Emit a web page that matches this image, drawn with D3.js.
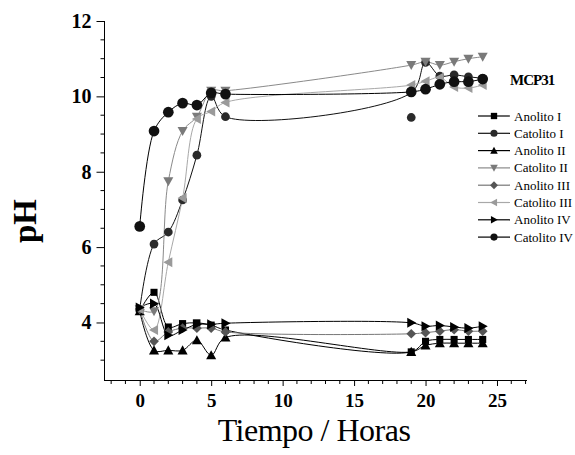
<!DOCTYPE html>
<html><head><meta charset="utf-8">
<script src="https://cdn.jsdelivr.net/npm/d3@7"></script>
<style>body{margin:0;background:#fff}svg{display:block}</style>
</head><body>
<svg id="c" width="575" height="455"></svg>
<script>
const times = [0, 1, 2, 3, 4, 5, 6, 19, 20, 21, 22, 23, 24];
const anolitoI   = [4.3, 4.8, 3.88, 3.97, 3.99, 3.93, 3.8, 3.22, 3.5, 3.55, 3.55, 3.55, 3.55];
const catolitoI  = [4.35, 6.08, 6.4, 7.25, 8.44, 10.0, 9.46, 10.1, 10.9, 10.54, 10.57, 10.52, 10.48];
const catolitoIStrayTimes = [19];
const catolitoIStrayValues = [9.44];
const anolitoII  = [4.3, 3.26, 3.26, 3.26, 3.53, 3.13, 3.6, 3.22, 3.39, 3.45, 3.45, 3.45, 3.45];
const catolitoII = [4.35, 4.3, 7.75, 9.08, 9.46, 10.15, 10.15, 10.83, 10.92, 10.83, 10.92, 11.0, 11.05];
const anolitoIII = [4.35, 3.5, 3.75, 3.85, 3.85, 3.85, 3.75, 3.7, 3.73, 3.77, 3.81, 3.77, 3.77];
const catolitoIII= [4.35, 3.8, 5.6, 7.3, 9.4, 9.6, 9.84, 10.3, 10.4, 10.5, 10.25, 10.22, 10.3];
const anolitoIV  = [4.4, 4.5, 3.66, 3.8, 3.95, 3.95, 3.98, 3.99, 3.9, 3.92, 3.88, 3.85, 3.9];
const catolitoIV = [6.55, 9.08, 9.58, 9.82, 9.77, 10.09, 10.06, 10.12, 10.19, 10.32, 10.39, 10.39, 10.46];
const seriesNames = ["Anolito I","Catolito I","Anolito II","Catolito II","Anolito III","Catolito III","Anolito IV","Catolito IV"];
const xTicks = [0, 5, 10, 15, 20, 25];
const yTicks = [4, 6, 8, 10, 12];
const title = "MCP31";

const seriesValues = [anolitoI, catolitoI, anolitoII, catolitoII, anolitoIII, catolitoIII, anolitoIV, catolitoIV];
const styles = [
  {sym: "square",   fill: "#000", line: "#000", size: 50},
  {sym: "circle",   fill: "#2a2a2a", line: "#111", size: 60},
  {sym: "triUp",    fill: "#000", line: "#000", size: 70},
  {sym: "triDown",  fill: "#7a7a7a", line: "#8a8a8a", size: 70},
  {sym: "diamond",  fill: "#555", line: "#777", size: 60},
  {sym: "triLeft",  fill: "#9a9a9a", line: "#a8a8a8", size: 70},
  {sym: "triRight", fill: "#000", line: "#000", size: 70},
  {sym: "circle",   fill: "#111", line: "#000", size: 90}
];

const svg = d3.select("#c");
const x = d3.scaleLinear().domain([-2.5, 27.1]).range([104, 527]);
const y = d3.scaleLinear().domain([2.5, 12]).range([379, 21]);

function symbolPath(sym, size) {
  const r = Math.sqrt(size) / 2;
  switch (sym) {
    case "square": return d3.symbol(d3.symbolSquare, size)();
    case "circle": return d3.symbol(d3.symbolCircle, size)();
    case "diamond": { const a = r*1.25; return `M0,${-a}L${a},0L0,${a}L${-a},0Z`; }
    case "triUp": { const a = r*1.2; return `M0,${-a}L${a},${a*0.8}L${-a},${a*0.8}Z`; }
    case "triDown": { const a = r*1.2; return `M0,${a}L${a},${-a*0.8}L${-a},${-a*0.8}Z`; }
    case "triLeft": { const a = r*1.2; return `M${-a},0L${a*0.8},${-a}L${a*0.8},${a}Z`; }
    case "triRight": { const a = r*1.2; return `M${a},0L${-a*0.8},${-a}L${-a*0.8},${a}Z`; }
  }
}

const font = "'Liberation Serif', 'Times New Roman', serif";

// axes
const xAxis = d3.axisBottom(x).tickValues(xTicks).tickSize(6).tickPadding(6).tickFormat(d3.format("d"));
const gx = svg.append("g").attr("transform", "translate(0,380)").call(xAxis);
gx.select(".domain").attr("d", "M104,0.5H527").attr("stroke", "#000");
gx.selectAll(".tick text").attr("font-family", font).attr("font-weight", "bold").attr("font-size", 19)
  .attr("y", 27).attr("dy", null);
const xMinor = d3.range(-2, 28, 1).filter(v => v % 5 !== 0);
gx.selectAll(".minor").data(xMinor).enter().append("line").attr("class","minor")
  .attr("x1", d => x(d)).attr("x2", d => x(d)).attr("y1", 0).attr("y2", 4).attr("stroke", "#000");

const yAxis = d3.axisLeft(y).tickValues(yTicks).tickSize(8).tickPadding(5).tickFormat(d3.format("d"));
const gy = svg.append("g").attr("transform", "translate(104.5,0)").call(yAxis);
gy.select(".domain").attr("d", "M0,21V380").attr("stroke", "#000");
gy.selectAll(".tick text").attr("font-family", font).attr("font-weight", "bold").attr("font-size", 20);
const yMinor = d3.range(3, 12, 0.5).filter(v => v % 2 !== 0);
gy.selectAll(".minor").data(yMinor).enter().append("line").attr("class","minor")
  .attr("y1", d => y(d)).attr("y2", d => y(d)).attr("x1", 0).attr("x2", -4).attr("stroke", "#000");

// axis titles
svg.append("text").attr("x", 314).attr("y", 441).attr("text-anchor", "middle")
  .attr("font-family", font).attr("font-size", 32).attr("letter-spacing", -0.5).text("Tiempo / Horas");
svg.append("text").attr("transform", "translate(36,221) rotate(-90)").attr("text-anchor", "middle")
  .attr("font-family", font).attr("font-weight", "bold").attr("font-size", 33).text("pH");

// series
const line = d3.line().x(d => x(d[0])).y(d => y(d[1])).curve(d3.curveCatmullRom.alpha(0.5));
const plot = svg.append("g");
seriesValues.forEach((vals, i) => {
  const pts = times.map((t, j) => [t, vals[j]]);
  plot.append("path").attr("d", line(pts)).attr("fill", "none")
    .attr("stroke", styles[i].line).attr("stroke-width", 1);
});
seriesValues.forEach((vals, i) => {
  plot.selectAll(null).data(times.map((t, j) => [t, vals[j]])).enter().append("path")
    .attr("transform", d => `translate(${x(d[0])},${y(d[1])})`)
    .attr("d", symbolPath(styles[i].sym, styles[i].size))
    .attr("fill", styles[i].fill);
});
plot.selectAll(null).data(catolitoIStrayTimes.map((t, j) => [t, catolitoIStrayValues[j]])).enter().append("path")
  .attr("transform", d => `translate(${x(d[0])},${y(d[1])})`)
  .attr("d", symbolPath(styles[1].sym, styles[1].size))
  .attr("fill", styles[1].fill);

// legend
svg.append("text").attr("x", 510).attr("y", 85).attr("font-family", font).attr("font-weight", "bold")
  .attr("font-size", 15).attr("letter-spacing", -1).text(title);
const lg = svg.append("g");
seriesNames.forEach((name, i) => {
  const yy = 116 + i * 17.3;
  lg.append("line").attr("x1", 478).attr("x2", 510).attr("y1", yy).attr("y2", yy)
    .attr("stroke", styles[i].line).attr("stroke-width", 1.2);
  lg.append("path").attr("transform", `translate(494,${yy})`).attr("d", symbolPath(styles[i].sym, 40))
    .attr("fill", styles[i].fill);
  lg.append("text").attr("x", 514).attr("y", yy + 4.5).attr("font-family", font)
    .attr("font-size", 13).text(name);
});
</script>
</body></html>
